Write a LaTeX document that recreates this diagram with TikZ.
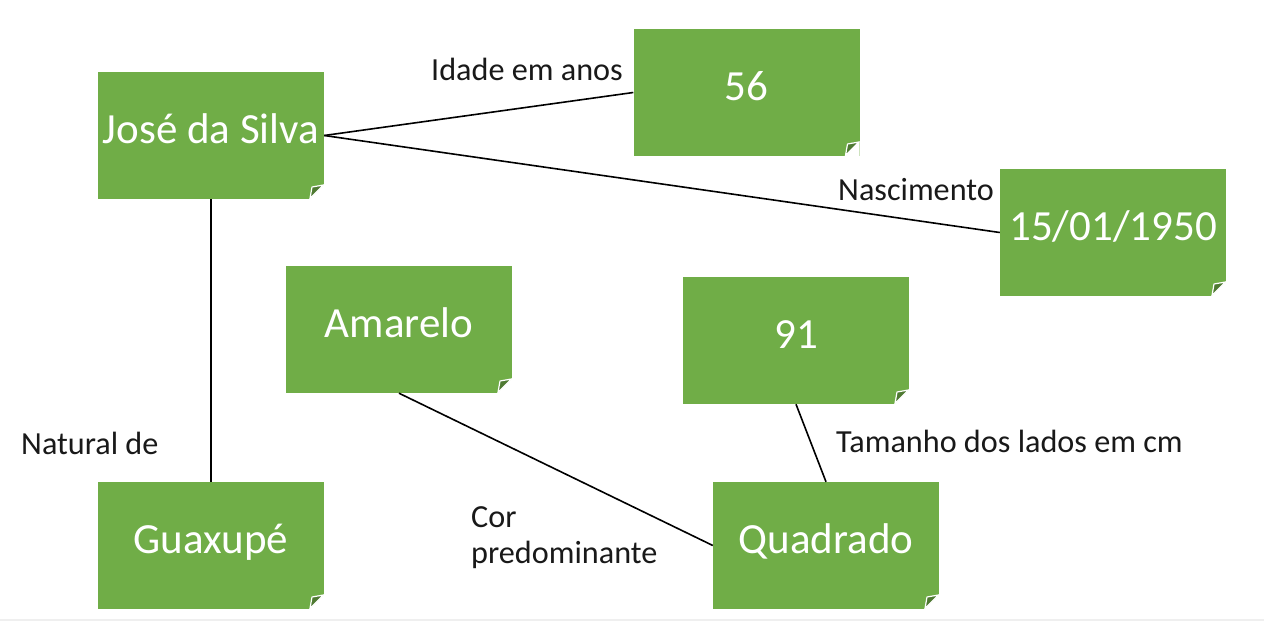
\documentclass[tikz,border=0pt]{standalone}
\usepackage{fontspec}
\setmainfont{Carlito}
\definecolor{notegreen}{HTML}{70AD47}
\definecolor{foldgreen}{HTML}{4F7A33}
\definecolor{edgegray}{HTML}{EFEFEF}
\begin{document}
\begin{tikzpicture}[x=1pt,y=-1pt,
  note/.style={rectangle, fill=notegreen, minimum width=226pt, minimum height=127pt,
    inner sep=0pt, text=white, font=\fontsize{43}{50}\selectfont,
    text height=22pt, text depth=7pt,
    path picture={
      \fill[white] ([xshift=-15pt]path picture bounding box.south east) --
        (path picture bounding box.south east) --
        ([yshift=15pt]path picture bounding box.south east) -- cycle;
      \filldraw[fill=foldgreen, draw=white, line width=1.2pt, line join=round]
        ([xshift=-14pt,yshift=0.5pt]path picture bounding box.south east) --
        ([xshift=-12pt,yshift=12pt]path picture bounding box.south east) --
        ([xshift=-0.5pt,yshift=14pt]path picture bounding box.south east) -- cycle;
    }},
  lbl/.style={anchor=base west, inner sep=0pt, text=black!90, font=\fontsize{32.2}{36}\selectfont},
  link/.style={draw=black, line width=1.6pt}
]
\useasboundingbox (0,0) rectangle (1264,621);
\fill[white] (0,0) rectangle (1264,621);
\fill[edgegray] (0,618.5) rectangle (1264,621);

\node[note] (jose) at (211,135.5) {José da Silva};
\node[note] (n56) at (746.5,92.5) {56};
\node[note] (date) at (1113,232.5) {15/01/1950};
\node[note] (amarelo) at (399,329.5) {Amarelo};
\node[note] (n91) at (796,340.5) {91};
\node[note] (guax) at (211,545.5) {Guaxupé};
\node[note] (quad) at (826,545.5) {Quadrado};

\draw[link] (jose.east) -- (n56.west);
\draw[link] (jose.east) -- (date.west);
\draw[link] (jose.south) -- (guax.north);
\draw[link] (amarelo.south) -- (quad.west);
\draw[link] (n91.south) -- (quad.north);

\node[lbl] (l1) at (431,80) {Idade em anos};
\node[lbl] (l2) at (838,200) {Nascimento};
\node[lbl] (l3) at (21,454) {Natural de};
\node[lbl] (l4) at (836,452) {Tamanho dos lados em cm};
\node[lbl] (l5) at (471,527) {Cor};
\node[lbl] (l6) at (471,563) {predominante};
\end{tikzpicture}
\end{document}
